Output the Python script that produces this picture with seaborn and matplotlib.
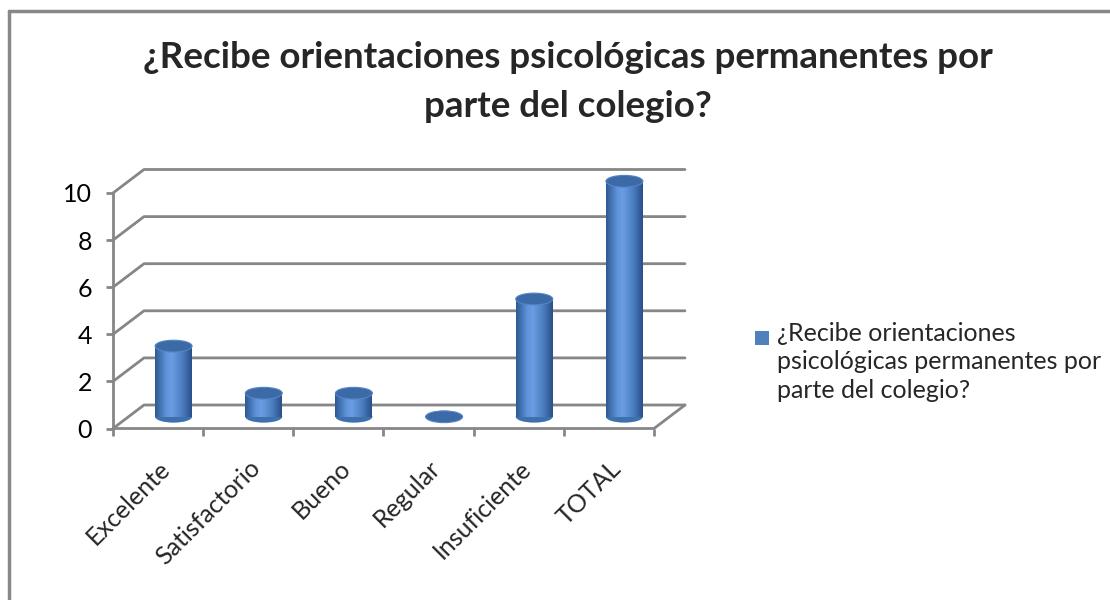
import numpy as np
import matplotlib
matplotlib.use("Agg")
import matplotlib.pyplot as plt
from matplotlib.patches import Ellipse, Rectangle
from matplotlib.colors import LinearSegmentedColormap
from matplotlib.transforms import ScaledTranslation
import seaborn as sns

# data
categorias = ["Excelente", "Satisfactorio", "Bueno", "Regular", "Insuficiente", "TOTAL"]
valores = [3, 1, 1, 0, 5, 10]
titulo = "¿Recibe orientaciones psicológicas permanentes por\nparte del colegio?"
serie = "¿Recibe orientaciones\npsicológicas permanentes por\nparte del colegio?"
yticks = [0, 2, 4, 6, 8, 10]

sns.set_theme(style="white")
plt.rcParams["font.family"] = ["Lato", "DejaVu Sans"]

W, H = 1110, 600
fig = plt.figure(figsize=(W / 100, H / 100), dpi=100)
fig.patch.set_facecolor("white")

# outer chart border (left and top visible)
fig.add_artist(plt.Line2D([9 / W, 9 / W], [0, 1 - 11 / H], color="#888888", lw=2.5))
fig.add_artist(plt.Line2D([9 / W, 1], [1 - 11 / H, 1 - 11 / H], color="#888888", lw=2.5))

# front plane of the 3d box, in pixels
x0, x1, yb, yt = 113, 654, 428.5, 193
rect = [x0 / W, 1 - yb / H, (x1 - x0) / W, (yb - yt) / H]
ax = fig.add_axes(rect)
ax.set_xlim(-0.5, 5.5)
ax.set_ylim(0, 10)
DX = 31 / ((x1 - x0) / 6)
DY = 23.5 / ((yb - yt) / 10)

grid = "#868686"
for v in yticks:
    ax.plot([-0.5, -0.5 + DX, 5.5 + DX], [v, v + DY, v + DY], color=grid, lw=2, clip_on=False)
ax.plot([-0.5, 5.5, 5.5 + DX], [0, 0, DY], color=grid, lw=2, clip_on=False)
ax.plot([-0.5, -0.5], [0, 10], color=grid, lw=2, clip_on=False)
for s in ax.spines.values():
    s.set_visible(False)
ax.patch.set_visible(False)

ax.set_yticks(yticks)
ax.set_yticklabels([str(v) for v in yticks], fontsize=18, color="black")
ax.set_xticks(range(len(categorias)))
ax.set_xticklabels(categorias, fontsize=18, rotation=45, ha="right", va="top",
                   rotation_mode="anchor")
shift = ScaledTranslation(2 / 100, 0, fig.dpi_scale_trans)
for lab in ax.get_xticklabels():
    lab.set_transform(lab.get_transform() + shift)
ax.set_xticks(np.arange(-0.5, 6, 1), minor=True)
ax.tick_params(axis="y", direction="out", length=5, width=2, color=grid, pad=10, left=True)
ax.tick_params(axis="x", which="major", length=0, pad=20, bottom=True)
ax.tick_params(axis="x", which="minor", direction="out", length=5, width=2, color=grid, bottom=True)

# bars sit at mid depth of the box
ax2 = fig.add_axes([(x0 + 15.5) / W, 1 - (yb - 11.75) / H, rect[2], rect[3]])
bw = 0.41
sns.barplot(x=categorias, y=valores, ax=ax2, width=bw, color="#4F81BD", saturation=1, linewidth=0)
ax2.axis("off")

cmap = LinearSegmentedColormap.from_list(
    "cyl", [(0, "#2D5A93"), (0.3, "#5E93DA"), (0.45, "#6A9DE2"), (0.75, "#4A7DC0"), (1, "#2A5088")])
grad = np.linspace(0, 1, 64)[None, :]
eh = 0.5
for i, (bar, v) in enumerate(zip(ax2.patches, valores)):
    cx = bar.get_x() + bar.get_width() / 2
    bar.set_clip_on(False)
    if v > 0:
        bot = Ellipse((cx, 0), bw, eh, facecolor="#3F70AE", edgecolor="none", clip_on=False, zorder=1)
        ax2.add_patch(bot)
        im = ax2.imshow(grad, cmap=cmap, aspect="auto", extent=[cx - bw / 2, cx + bw / 2, -eh, v], zorder=2)
        im.set_clip_box(None)
        im.set_clip_path(bot)
        im2 = ax2.imshow(grad, cmap=cmap, aspect="auto", extent=[cx - bw / 2, cx + bw / 2, -eh, v], zorder=3)
        im2.set_clip_box(None)
        im2.set_clip_path(bar)
    ax2.add_patch(Ellipse((cx, v), bw, eh, facecolor="#3B6AA6", edgecolor="#5585C8", lw=0.8,
                          zorder=4, clip_on=False))
ax2.set_xlim(-0.5, 5.5)
ax2.set_ylim(0, 10)

# title
fig.text(568 / W, 1 - 41 / H, titulo, ha="center", va="top", fontsize=26.5, fontweight="bold",
         linespacing=1.58)

# legend
fig.add_artist(Rectangle((755 / W, 1 - 345 / H), 14 / W, 14 / H, transform=fig.transFigure,
                         facecolor="#4F81BD", edgecolor="none"))
fig.text(777 / W, 1 - 322 / H, serie, ha="left", va="top", fontsize=18, linespacing=1.28)

fig.savefig("out.png", dpi=100)
